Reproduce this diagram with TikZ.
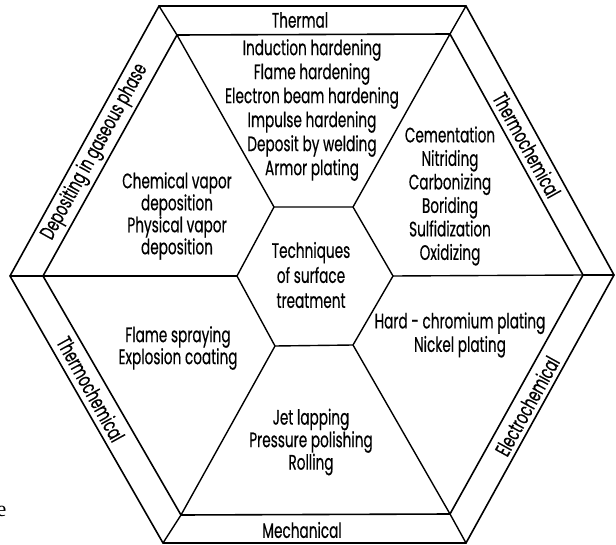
\documentclass[tikz,border=0pt]{standalone}
\usepackage{fontspec}
\setmainfont{Poppins}[FakeStretch=0.65,FakeBold=0.4]
\newfontfamily\cutserif{Liberation Serif}
\begin{document}
\begin{tikzpicture}[x=1pt,y=1pt,line width=1.4pt,line join=miter]
\tikzset{
  lbl/.style={align=center,inner sep=0pt,font=\fontsize{21}{23.5}\selectfont},
  band/.style={inner sep=0pt,font=\fontsize{21}{23}\selectfont},
  edge/.style={line width=1.6pt},
  spoke/.style={line width=1.4pt}
}
\useasboundingbox (0,0) rectangle (616,-545);
% outer hexagon
\coordinate (O1) at (159,-6);
\coordinate (O2) at (466,-6);
\coordinate (O3) at (614,-275);
\coordinate (O4) at (466,-543);
\coordinate (O5) at (163,-543);
\coordinate (O6) at (10,-276);
% inner hexagon
\coordinate (I1) at (177,-35);
\coordinate (I2) at (450,-34);
\coordinate (I3) at (583,-275);
\coordinate (I4) at (450,-514);
\coordinate (I5) at (181,-515);
\coordinate (I6) at (43,-276);
% centre hexagon
\coordinate (C1) at (274,-207);
\coordinate (C2) at (353,-207);
\coordinate (C3) at (393,-276);
\coordinate (C4) at (353,-345);
\coordinate (C5) at (275,-346);
\coordinate (C6) at (237,-276);
\draw[edge] (O1) -- (O2) -- (O3) -- (O4) -- (O5) -- (O6) -- cycle;
\draw[edge] (I1) -- (I2) -- (I3) -- (I4) -- (I5) -- (I6) -- cycle;
\draw[spoke] (C1) -- (C2) -- (C3) -- (C4) -- (C5) -- (C6) -- cycle;
\foreach \k in {1,...,6} {
  \draw[spoke] (O\k) -- (I\k);
  \draw[spoke] (I\k) -- (C\k);
}
% band labels
\node[band] (thermal) at (300,-20) {Thermal};
\node[band] (mech) at (302,-530) {Mechanical};
\node[band,rotate=61] (gas) at (95,-152) {Depositing in gaseous phase};
\node[band,rotate=-61] (tchem1) at (527,-145) {Thermochemical};
\node[band,rotate=-61] (tchem2) at (91,-389) {Thermochemical};
\node[band,rotate=61] (echem) at (527,-406) {Electrochemical};
% region labels
\node[lbl,font=\fontsize{21}{24}\selectfont] (top) at (312,-110) {Induction hardening\\Flame hardening\\Electron beam hardening\\Impulse hardening\\Deposit by welding\\Armor plating};
\node[lbl,font=\fontsize{21}{22}\selectfont] (ul) at (177,-216) {Chemical vapor\\deposition\\Physical vapor\\deposition};
\node[lbl] (ur) at (450,-196) {Cementation\\Nitriding\\Carbonizing\\Boriding\\Sulfidization\\Oxidizing};
\node[lbl,font=\fontsize{21}{25}\selectfont] (ctr) at (311,-275) {Techniques\\of surface\\treatment};
\node[lbl,font=\fontsize{21}{22}\selectfont] (ll) at (178,-348) {Flame spraying\\Explosion coating};
\node[lbl] (lr) at (460,-335) {Hard - chromium plating\\Nickel plating};
\node[lbl,font=\fontsize{21}{22.5}\selectfont] (bot) at (311,-442) {Jet lapping\\Pressure polishing\\Rolling};
\node[anchor=east,inner sep=0pt,font=\cutserif\fontsize{22}{22}\selectfont] (cut) at (7,-511) {e};
\end{tikzpicture}
\end{document}
